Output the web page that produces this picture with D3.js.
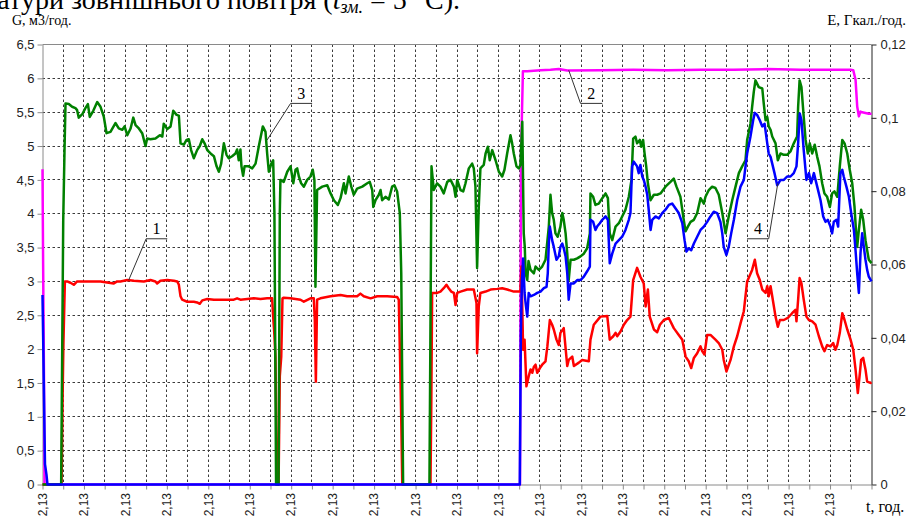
<!DOCTYPE html>
<meta charset="utf-8">

<!-- Load d3.js -->
<script src="https://d3js.org/d3.v7.min.js"></script>

<style>
  body { margin: 0; background: #fff; }
  svg { display: block; }
</style>

<div id="my_dataviz"></div>

<script>

/***************************************
DATA (t in grid steps, G in m3/h, E in Gcal/h)
****************************************/

var timeLabel = "2,13";
var labelTimes = [0, 2, 4, 6, 8, 10, 12, 14, 16, 18, 20, 22, 24, 26, 28, 30, 32, 34, 36, 38];
var leftTicks = [0, 0.5, 1, 1.5, 2, 2.5, 3, 3.5, 4, 4.5, 5, 5.5, 6, 6.5];
var rightTicks = [0, 0.02, 0.04, 0.06, 0.08, 0.1, 0.12];

// 1 - red
var series1 = [[0,0],[0.92,0],[0.97,1.30],[1.01,2.09],[1.08,3.00],[1.19,3.00],[1.35,2.98],[1.51,2.95],[1.67,3.00],[2.16,3.00],[2.80,3.00],[3.44,2.97],[3.60,3.00],[3.76,3.00],[4.09,3.02],[4.41,3.01],[4.89,3.00],[5.21,3.02],[5.45,3.00],[5.53,2.97],[5.69,3.01],[6.02,3.02],[6.34,3.01],[6.50,3.00],[6.58,2.95],[6.66,2.78],[6.74,2.73],[6.98,2.70],[7.30,2.70],[7.46,2.69],[7.59,2.67],[7.71,2.72],[7.95,2.74],[8.27,2.73],[8.59,2.73],[9.23,2.73],[9.39,2.75],[9.55,2.73],[9.88,2.74],[10.20,2.75],[10.52,2.74],[10.84,2.75],[11.08,2.75],[11.13,2.48],[11.19,2.21],[11.24,1.89],[11.32,0],[11.39,0],[11.45,1.60],[11.52,1.89],[11.58,2.75],[11.64,2.76],[11.97,2.75],[12.45,2.73],[12.61,2.70],[12.93,2.75],[13.09,2.75],[13.14,2.43],[13.19,1.52],[13.25,2.73],[13.41,2.75],[13.90,2.78],[14.38,2.80],[14.70,2.78],[15.18,2.78],[15.34,2.82],[15.50,2.78],[15.83,2.75],[16.15,2.78],[16.63,2.78],[17.11,2.77],[17.19,2.73],[17.24,2.04],[17.31,0.96],[17.36,0],[18.72,0],[18.76,1.20],[18.80,2.83],[19.04,2.83],[19.20,2.85],[19.36,2.90],[19.49,2.95],[19.60,2.90],[19.72,2.85],[19.85,2.83],[19.93,2.65],[20.01,2.83],[20.17,2.85],[20.49,2.88],[20.81,2.88],[20.94,2.68],[20.97,1.94],[21.05,2.63],[21.13,2.83],[21.38,2.85],[21.62,2.88],[21.94,2.89],[22.18,2.90],[22.42,2.88],[22.74,2.85],[22.98,2.85],[23.06,2.85],[23.11,3.22],[23.19,1.99],[23.26,2.14],[23.35,1.45],[23.46,1.60],[23.55,1.70],[23.63,1.65],[23.71,1.74],[23.79,1.77],[23.87,1.65],[24.00,1.72],[24.11,1.77],[24.27,1.82],[24.36,2.04],[24.48,2.43],[24.59,2.36],[24.67,2.29],[24.80,2.14],[24.91,2.06],[24.99,2.24],[25.15,2.31],[25.32,1.75],[25.39,1.84],[25.56,1.89],[25.64,1.75],[25.88,1.80],[26.04,1.84],[26.36,1.82],[26.44,2.14],[26.60,2.36],[26.92,2.48],[27.25,2.49],[27.37,2.14],[27.54,2.19],[27.65,2.24],[27.73,2.19],[27.89,2.26],[28.05,2.36],[28.21,2.43],[28.37,2.48],[28.50,3.02],[28.69,3.20],[28.85,3.07],[29.01,2.97],[29.10,2.63],[29.21,2.88],[29.30,2.48],[29.50,2.29],[29.66,2.25],[29.79,2.36],[29.98,2.43],[30.22,2.46],[30.46,2.31],[30.70,2.21],[30.87,2.14],[31.03,1.89],[31.18,1.82],[31.30,1.72],[31.43,1.87],[31.59,1.94],[31.75,2.04],[31.83,1.97],[31.94,1.92],[32.07,2.21],[32.23,2.21],[32.47,2.14],[32.63,2.09],[32.80,1.99],[32.87,1.84],[33.00,1.67],[33.20,1.84],[33.36,2.04],[33.52,2.19],[33.68,2.38],[33.84,2.56],[34.00,3.00],[34.24,3.17],[34.37,3.32],[34.48,3.12],[34.61,3.02],[34.73,2.88],[34.89,2.83],[34.97,2.93],[35.04,2.78],[35.13,2.93],[35.21,2.78],[35.37,2.48],[35.48,2.33],[35.58,2.43],[35.77,2.43],[35.96,2.46],[36.17,2.53],[36.33,2.58],[36.38,2.41],[36.46,2.73],[36.53,3.05],[36.62,2.97],[36.73,2.73],[36.86,2.48],[36.98,2.43],[37.14,2.41],[37.30,2.36],[37.46,2.19],[37.62,2.04],[37.73,1.97],[37.86,2.06],[38.02,2.04],[38.15,2.09],[38.26,1.99],[38.35,2.06],[38.47,2.24],[38.59,2.53],[38.70,2.43],[38.83,2.29],[38.99,2.14],[39.12,1.99],[39.23,1.70],[39.34,1.35],[39.44,1.65],[39.50,1.84],[39.60,1.87],[39.71,1.70],[39.79,1.52],[39.95,1.50],[40.00,1.51]];

// 2 - magenta, right axis
var series2 = [[0,0.086],[0.03,0.06],[0.07,0.03],[0.10,0],[23.04,0],[23.09,0.09],[23.18,0.1127],[23.39,0.1127],[24.03,0.1130],[24.51,0.1131],[24.91,0.1133],[25.32,0.1129],[26.92,0.1130],[28.51,0.1131],[30.14,0.1130],[31.75,0.1131],[33.34,0.1131],[34.97,0.1133],[36.58,0.1131],[38.99,0.1131],[39.12,0.1130],[39.23,0.1104],[39.31,0.1031],[39.39,0.1004],[39.47,0.1017],[39.55,0.1015],[39.71,0.1013],[39.87,0.1011],[40.00,0.1011]];

// 3 - green
var series3 = [[0,0],[0.90,0],[1.00,3.9],[1.06,4.9],[1.11,5.63],[1.27,5.62],[1.43,5.58],[1.59,5.56],[1.67,5.53],[1.75,5.42],[1.92,5.47],[2.07,5.56],[2.19,5.62],[2.28,5.43],[2.45,5.52],[2.64,5.65],[2.80,5.58],[2.96,5.43],[3.09,5.19],[3.28,5.21],[3.52,5.34],[3.68,5.26],[3.85,5.24],[3.96,5.29],[4.09,5.16],[4.25,5.26],[4.38,5.42],[4.49,5.31],[4.65,5.26],[4.81,5.19],[4.97,5.00],[5.05,5.11],[5.21,5.10],[5.45,5.11],[5.66,5.16],[5.78,5.14],[5.85,5.33],[6.02,5.25],[6.18,5.29],[6.31,5.52],[6.47,5.46],[6.58,5.45],[6.66,5.04],[6.82,5.02],[6.95,5.09],[7.06,5.10],[7.17,4.94],[7.30,4.82],[7.46,4.94],[7.59,5.00],[7.71,5.10],[7.82,5.04],[7.95,4.94],[8.11,4.89],[8.27,4.85],[8.40,4.70],[8.51,4.62],[8.62,4.74],[8.75,5.04],[8.88,4.87],[8.99,4.82],[9.15,4.85],[9.31,4.89],[9.39,4.95],[9.47,4.79],[9.55,4.95],[9.60,4.70],[9.68,4.56],[9.75,4.70],[9.95,4.70],[10.12,4.67],[10.28,4.74],[10.44,5.00],[10.63,5.29],[10.76,5.21],[10.84,4.89],[10.92,4.62],[11.04,4.74],[11.13,4.79],[11.19,4.01],[11.27,0],[11.39,0],[11.45,4.01],[11.48,4.50],[11.64,4.47],[11.81,4.62],[11.97,4.70],[12.10,4.45],[12.21,4.65],[12.29,4.67],[12.37,4.55],[12.48,4.45],[12.61,4.40],[12.77,4.50],[12.93,4.55],[13.04,4.65],[13.12,4.50],[13.17,2.92],[13.25,4.35],[13.50,4.40],[13.74,4.42],[13.90,4.30],[14.06,4.20],[14.25,4.13],[14.38,4.23],[14.54,4.45],[14.62,4.30],[14.78,4.55],[14.90,4.40],[15.02,4.28],[15.18,4.37],[15.43,4.40],[15.67,4.45],[15.79,4.47],[15.91,4.35],[15.96,4.10],[16.07,4.20],[16.23,4.28],[16.31,4.35],[16.39,4.20],[16.55,4.25],[16.71,4.21],[16.87,4.40],[16.98,4.42],[17.11,4.33],[17.24,4.01],[17.31,3.12],[17.40,0],[18.67,0],[18.77,4.70],[18.88,4.35],[19.04,4.45],[19.20,4.40],[19.36,4.30],[19.53,4.47],[19.69,4.50],[19.85,4.40],[19.93,4.25],[20.01,4.50],[20.17,4.35],[20.30,4.33],[20.41,4.45],[20.57,4.67],[20.73,4.74],[20.81,4.67],[20.89,4.40],[20.97,3.20],[21.05,4.10],[21.13,4.67],[21.29,4.72],[21.38,4.89],[21.49,4.99],[21.58,4.79],[21.70,4.94],[21.86,4.79],[22.02,4.62],[22.18,4.55],[22.29,4.65],[22.42,4.89],[22.58,5.16],[22.66,5.04],[22.74,4.89],[22.87,4.70],[22.98,4.67],[23.06,4.72],[23.15,5.36],[23.22,3.71],[23.27,3.51],[23.31,3.12],[23.39,3.02],[23.45,3.30],[23.55,3.17],[23.71,3.12],[23.79,3.22],[23.95,3.17],[24.11,3.22],[24.27,3.32],[24.43,3.81],[24.51,4.28],[24.59,4.01],[24.67,3.91],[24.75,3.71],[24.86,3.66],[24.99,3.81],[25.08,4.01],[25.15,3.91],[25.24,3.71],[25.32,3.41],[25.39,3.02],[25.48,3.32],[25.64,3.32],[25.80,3.34],[25.96,3.37],[26.12,3.41],[26.28,3.49],[26.41,3.71],[26.44,4.30],[26.57,4.25],[26.68,4.13],[26.84,4.15],[27.01,4.23],[27.17,4.30],[27.28,4.23],[27.37,3.71],[27.49,3.61],[27.65,3.81],[27.81,3.86],[27.97,3.96],[28.13,4.06],[28.29,4.25],[28.42,4.50],[28.50,5.11],[28.61,5.14],[28.69,5.04],[28.82,5.09],[28.89,4.99],[28.98,5.09],[29.05,4.89],[29.13,4.70],[29.21,4.45],[29.34,4.20],[29.50,4.28],[29.66,4.28],[29.82,4.30],[30.06,4.40],[30.30,4.47],[30.46,4.52],[30.59,4.40],[30.78,4.25],[30.94,3.91],[31.03,3.74],[31.14,3.81],[31.27,3.88],[31.43,3.91],[31.59,4.01],[31.75,4.23],[31.91,4.15],[31.99,4.25],[32.15,4.35],[32.31,4.40],[32.47,4.38],[32.63,4.28],[32.80,4.01],[32.96,3.71],[33.11,3.96],[33.28,4.20],[33.44,4.40],[33.60,4.60],[33.76,4.70],[33.92,4.79],[34.00,5.09],[34.16,5.33],[34.24,5.58],[34.32,5.80],[34.40,5.97],[34.56,5.87],[34.73,5.85],[34.80,5.63],[34.89,5.38],[34.97,5.43],[35.04,5.29],[35.13,5.24],[35.21,5.14],[35.37,5.04],[35.48,4.79],[35.61,4.89],[35.77,4.87],[35.93,4.87],[36.09,4.92],[36.25,5.04],[36.41,5.14],[36.46,5.58],[36.53,5.97],[36.62,5.87],[36.73,5.43],[36.82,5.09],[36.93,4.89],[37.02,5.04],[37.14,4.89],[37.26,5.02],[37.38,4.84],[37.49,4.70],[37.62,4.45],[37.73,4.30],[37.86,4.25],[37.99,4.10],[38.10,4.30],[38.21,4.33],[38.35,4.25],[38.47,4.70],[38.59,5.09],[38.70,5.04],[38.83,4.89],[38.95,4.65],[39.07,4.45],[39.18,4.10],[39.24,3.81],[39.31,3.51],[39.39,3.76],[39.50,4.06],[39.60,3.91],[39.71,3.61],[39.79,3.46],[39.87,3.32],[40.00,3.27]];

// 4 - blue
var series4 = [[0,2.80],[0.03,2.2],[0.10,0.7],[0.12,0.3],[0.19,0.15],[0.24,0],[23.03,0],[23.08,2.2],[23.13,3.0],[23.19,3.34],[23.26,2.83],[23.31,2.68],[23.39,2.48],[23.46,2.83],[23.55,2.78],[23.71,2.80],[23.87,2.83],[24.03,2.85],[24.19,2.90],[24.32,2.92],[24.38,3.12],[24.43,3.56],[24.48,3.81],[24.59,3.61],[24.67,3.51],[24.80,3.32],[24.91,3.37],[24.99,3.51],[25.08,3.56],[25.15,3.49],[25.24,3.37],[25.32,3.12],[25.39,2.73],[25.48,2.97],[25.64,2.97],[25.80,3.02],[25.96,3.02],[26.12,3.07],[26.28,3.15],[26.41,3.22],[26.44,3.91],[26.57,3.88],[26.68,3.76],[26.76,3.81],[26.89,3.86],[27.01,3.91],[27.17,3.96],[27.28,3.91],[27.37,3.27],[27.49,3.41],[27.65,3.56],[27.81,3.61],[27.97,3.66],[28.13,3.76],[28.29,3.91],[28.37,4.01],[28.45,4.70],[28.53,4.77],[28.69,4.70],[28.77,4.60],[28.85,4.72],[28.94,4.55],[29.01,4.50],[29.10,4.40],[29.18,4.28],[29.25,4.06],[29.34,3.76],[29.42,3.91],[29.58,3.96],[29.74,3.93],[29.90,4.01],[30.06,4.06],[30.22,4.13],[30.38,4.15],[30.54,4.08],[30.70,4.01],[30.87,3.86],[30.98,3.61],[31.07,3.44],[31.18,3.49],[31.30,3.46],[31.43,3.56],[31.59,3.66],[31.75,3.76],[31.91,3.81],[32.07,3.88],[32.23,3.96],[32.39,4.03],[32.55,4.01],[32.71,3.88],[32.80,3.71],[32.87,3.51],[33.00,3.39],[33.11,3.51],[33.23,3.71],[33.36,3.91],[33.52,4.20],[33.68,4.40],[33.84,4.50],[34.00,4.89],[34.16,5.14],[34.29,5.38],[34.37,5.49],[34.48,5.46],[34.61,5.38],[34.73,5.29],[34.84,5.33],[34.97,5.04],[35.04,4.89],[35.13,4.84],[35.21,4.74],[35.32,4.60],[35.45,4.42],[35.61,4.50],[35.77,4.50],[35.93,4.55],[36.09,4.55],[36.25,4.60],[36.38,4.70],[36.46,5.04],[36.54,5.48],[36.62,5.38],[36.73,4.94],[36.86,4.50],[36.98,4.60],[37.09,4.45],[37.22,4.60],[37.30,4.50],[37.38,4.40],[37.54,4.20],[37.67,3.96],[37.78,3.88],[37.89,3.91],[38.02,3.81],[38.10,3.71],[38.18,3.88],[38.31,3.91],[38.39,3.81],[38.50,4.60],[38.59,4.65],[38.66,4.55],[38.79,4.40],[38.91,4.25],[39.02,4.01],[39.15,3.76],[39.23,3.46],[39.31,3.12],[39.39,2.83],[39.47,3.42],[39.55,3.71],[39.63,3.51],[39.71,3.32],[39.79,3.17],[39.87,3.07],[40.00,3.00]];

// callouts: number, text spot, shelf (t1, t2, G) and the tip of the leader, all in chart units
var callouts = [
  {label: "1", at: [5.50, 3.70], shelf: [5.00, 6.02, 3.63], from: 5.00, tip: [4.16, 3.02]},
  {label: "3", at: [12.48, 5.69], shelf: [11.97, 13.01, 5.63], from: 11.97, tip: [10.84, 5.09]},
  {label: "2", at: [26.48, 5.69], shelf: [25.96, 27.01, 5.63], from: 25.96, tip: [25.39, 6.12]},
  {label: "4", at: [34.52, 3.70], shelf: [34.00, 35.04, 3.63], from: 35.04, tip: [35.48, 4.45]}
];

/***************************************
SVG and scales
****************************************/

var margin = {top: 44.5, right: 36.5, bottom: 32.5, left: 42.5},
    width = 829,
    height = 440;

var svg = d3.select("#my_dataviz")
  .append("svg")
    .attr("width", 908)
    .attr("height", 517);

var g = svg.append("g")
    .attr("transform", "translate(" + margin.left + "," + margin.top + ")");

var x = d3.scaleLinear().domain([0, 40]).range([0, width]);
var y = d3.scaleLinear().domain([0, 6.5]).range([height, 0]);
var yE = d3.scaleLinear().domain([0, 0.12]).range([height, 0]);

var comma = function(d) { return String(d).replace(".", ","); };
var sans = "'Liberation Sans', Arial, sans-serif";
var serif = "'Liberation Serif', 'Times New Roman', serif";

// caption cut at the top of the page
svg.append("text")
    .attr("x", 460)
    .attr("y", 8.5)
    .attr("text-anchor", "end")
    .style("font-family", serif)
    .style("font-size", "28px")
    .text("температури зовнішнього повітря (")
  .append("tspan").style("font-style", "italic").text("t")
  .select(function() { return this.parentNode; })
  .append("tspan").style("font-style", "italic").style("font-size", "18px").attr("dy", 4).text("зм.")
  .select(function() { return this.parentNode; })
  .append("tspan").attr("dy", -4).text(" = 5 °С).");

/***************************************
Grid
****************************************/

g.append("g")
  .selectAll("line")
  .data(leftTicks.filter(function(d) { return d > 0 && d < 6.5; }))
  .join("line")
    .attr("x1", 0)
    .attr("x2", width)
    .attr("y1", function(d) { return Math.round(y(d)); })
    .attr("y2", function(d) { return Math.round(y(d)); })
    .attr("stroke", "#3a3a3a")
    .attr("stroke-dasharray", "2.5,2.5");

g.append("g")
  .selectAll("line")
  .data(d3.range(1, 40))
  .join("line")
    .attr("x1", function(d) { return Math.round(x(d)); })
    .attr("x2", function(d) { return Math.round(x(d)); })
    .attr("y1", 0)
    .attr("y2", height)
    .attr("stroke", "#3a3a3a")
    .attr("stroke-dasharray", "2.5,2.5");

// top border
g.append("line")
    .attr("x1", 0).attr("x2", width)
    .attr("y1", 0).attr("y2", 0)
    .attr("stroke", "#8a8a8a");

/***************************************
Axes
****************************************/

var leftAxis = g.append("g")
    .call(d3.axisLeft(y).tickValues(leftTicks).tickFormat(comma).tickSize(5).tickSizeOuter(0));
leftAxis.selectAll("path, line").attr("stroke", "#8a8a8a");

var rightAxis = g.append("g")
    .attr("transform", "translate(" + width + ",0)")
    .call(d3.axisRight(yE).tickValues(rightTicks).tickFormat(comma).tickSize(5).tickSizeOuter(0));
rightAxis.selectAll("path, line").attr("stroke", "#222");
rightAxis.selectAll("text").attr("x", 9);

var bottomAxis = g.append("g")
    .attr("transform", "translate(0," + height + ")")
    .call(d3.axisBottom(x).tickValues(d3.range(0, 41)).tickFormat("").tickSize(5).tickSizeOuter(0));
bottomAxis.selectAll("path, line").attr("stroke", "#8a8a8a");

g.selectAll(".tick text")
    .style("font-family", sans)
    .style("font-size", "13px")
    .attr("fill", "#222");

// rotated time labels
g.append("g")
  .selectAll("text")
  .data(labelTimes)
  .join("text")
    .attr("transform", function(d) { return "translate(" + x(d) + "," + (height + 8.5) + ") rotate(-90)"; })
    .attr("text-anchor", "end")
    .attr("dy", "0.35em")
    .style("font-family", sans)
    .style("font-size", "12px")
    .attr("fill", "#222")
    .text(timeLabel);

// axis titles
svg.append("text")
    .attr("x", 12).attr("y", 25)
    .style("font-family", serif).style("font-size", "14px")
    .text("G, м3/год.");

svg.append("text")
    .attr("x", 906).attr("y", 25)
    .attr("text-anchor", "end")
    .style("font-family", serif).style("font-size", "15px")
    .text("E, Гкал./год.");

svg.append("text")
    .attr("x", 866).attr("y", 512)
    .style("font-family", serif).style("font-size", "16px")
    .text("t, год.");

/***************************************
Lines
****************************************/

var lineG = d3.line()
    .x(function(d) { return x(d[0]); })
    .y(function(d) { return y(d[1]); });

var lineE = d3.line()
    .x(function(d) { return x(d[0]); })
    .y(function(d) { return yE(d[1]); });

var drawLine = function(data, gen, color) {
  g.append("path")
    .datum(data)
    .attr("d", gen)
    .attr("fill", "none")
    .attr("stroke", color)
    .attr("stroke-width", 2.5)
    .attr("stroke-linejoin", "round");
};

drawLine(series2, lineE, "#ff00ff");
drawLine(series1, lineG, "#ff0000");
drawLine(series3, lineG, "#008000");
drawLine(series4, lineG, "#0000ff");

/***************************************
Callouts 1-4
****************************************/

callouts.forEach(function(c) {
  g.append("line")
    .attr("x1", x(c.shelf[0])).attr("y1", y(c.shelf[2]))
    .attr("x2", x(c.shelf[1])).attr("y2", y(c.shelf[2]))
    .attr("stroke", "#333")
    .attr("stroke-width", 1);
  g.append("line")
    .attr("x1", x(c.from)).attr("y1", y(c.shelf[2]))
    .attr("x2", x(c.tip[0])).attr("y2", y(c.tip[1]))
    .attr("stroke", "#333")
    .attr("stroke-width", 1);
  g.append("text")
    .attr("x", x(c.at[0]))
    .attr("y", y(c.at[1]))
    .attr("text-anchor", "middle")
    .style("font-family", serif)
    .style("font-size", "16px")
    .text(c.label);
});

</script>
